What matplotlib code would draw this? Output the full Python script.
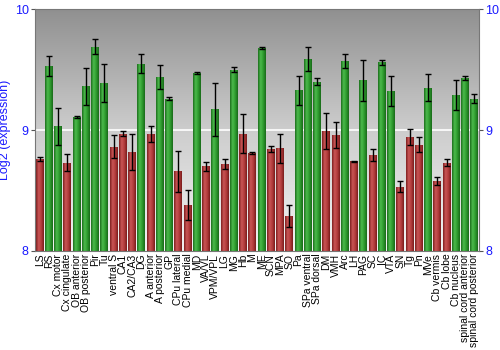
import numpy as np
import matplotlib.pyplot as plt
from matplotlib.colors import LinearSegmentedColormap

regions = ['LS', 'RS', 'Cx motor', 'Cx cingulate', 'OB anterior', 'OB posterior',
           'Pir', 'Tu', 'ventral S', 'CA1', 'CA2/CA3', 'DG', 'A anterior',
           'A posterior', 'GP', 'CPu lateral', 'CPu medial', 'MD', 'VA/VL',
           'VPM/VPL', 'LG', 'MG', 'Hb', 'M', 'ME', 'SCN', 'MPA', 'SO', 'Pa',
           'SPa ventral', 'SPa dorsal', 'DM', 'VMH', 'Arc', 'LH', 'PAG', 'SC',
           'IC', 'VTA', 'SN', 'Tg', 'Pn', 'MVe', 'Cb vermis', 'Cb lobe',
           'Cb nucleus', 'spinal cord anterior', 'spinal cord posterior']

expression = [8.76, 9.53, 9.03, 8.73, 9.11, 9.36, 9.69, 9.39, 8.86, 8.97,
              8.82, 9.55, 8.97, 9.44, 9.26, 8.66, 8.38, 9.47, 8.70, 9.17,
              8.72, 9.50, 8.97, 8.81, 9.68, 8.84, 8.85, 8.29, 9.33, 9.59,
              9.40, 8.99, 8.96, 9.57, 8.74, 9.41, 8.79, 9.56, 9.32, 8.53,
              8.94, 8.88, 9.35, 8.58, 8.73, 9.29, 9.43, 9.26]

errors = [0.02, 0.08, 0.15, 0.07, 0.01, 0.15, 0.065, 0.16, 0.095, 0.02,
          0.15, 0.08, 0.065, 0.10, 0.01, 0.17, 0.12, 0.01, 0.035, 0.22,
          0.04, 0.02, 0.16, 0.005, 0.01, 0.025, 0.12, 0.09, 0.12, 0.10,
          0.03, 0.15, 0.105, 0.06, 0.005, 0.17, 0.05, 0.02, 0.125, 0.045,
          0.065, 0.06, 0.11, 0.035, 0.03, 0.125, 0.02, 0.04]

baseline = 8.0
threshold = 9.0

plt.rcParams['font.family'] = ['Liberation Sans', 'DejaVu Sans']

fig = plt.figure(figsize=(5, 3.5), dpi=100)
ax = fig.add_axes([0.07, 0.283, 0.888, 0.691])

x = np.arange(len(regions))
ax.set_xlim(-0.5, len(regions) - 0.5)
ax.set_ylim(8, 10)

# gray gradient background
bg = np.linspace(0, 1, 256).reshape(-1, 1)
bg_cmap = LinearSegmentedColormap.from_list('bg', ['#f2f2f2', '#cdcdcd', '#909090'])
ax.imshow(bg, cmap=bg_cmap, aspect='auto', extent=[-0.5, len(regions) - 0.5, 10, 8],
          zorder=0, origin='upper')
ax.axhline(threshold, color='white', linewidth=1.2, zorder=1)

red_cmap = LinearSegmentedColormap.from_list('r', ['#7e1f1f', '#c95555', '#b23c3c', '#7a1c1c'])
green_cmap = LinearSegmentedColormap.from_list('g', ['#1c6e1c', '#4cbb4c', '#2e9a2e', '#196a19'])

heights = [v - baseline for v in expression]
bars = ax.bar(x, heights, bottom=baseline, width=0.86, color='none', edgecolor='none', zorder=2)
grad = np.linspace(0, 1, 64).reshape(1, -1)
for b, v in zip(bars, expression):
    cmap = green_cmap if v > threshold else red_cmap
    x0, w = b.get_x(), b.get_width()
    im = ax.imshow(grad, cmap=cmap, aspect='auto', extent=[x0, x0 + w, baseline, v], zorder=2)
    im.set_clip_path(b)

ax.errorbar(x, expression, yerr=errors, fmt='none', ecolor='black', elinewidth=1,
            capsize=2, capthick=1, zorder=3)

ax.set_xticks(x)
ax.set_xticklabels(regions, rotation=90, fontsize=7.5)
ax.tick_params(axis='x', length=0, pad=2)

ax.set_yticks([8, 9, 10])
ax.tick_params(axis='y', colors='#1a1aff', labelsize=9, length=3, color='#555555',
               pad=1.5, left=True, right=True, labelleft=True, labelright=True)
ax.set_ylabel('Log2 (expression)', color='#1a1aff', fontsize=9, labelpad=3)

for s in ax.spines.values():
    s.set_color('#777777')
    s.set_linewidth(0.8)

fig.savefig('out.png', dpi=100)
